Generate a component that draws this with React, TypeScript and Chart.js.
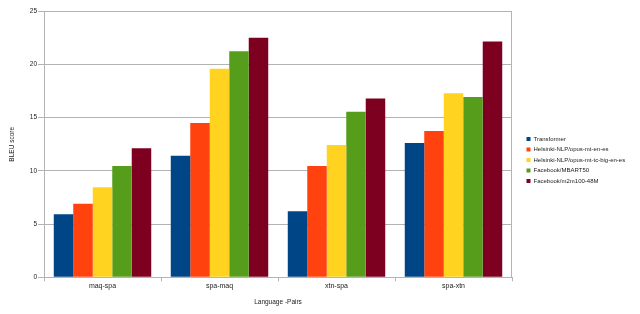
import React, { useEffect, useRef } from "react";
import { Chart, registerables } from "chart.js";

Chart.register(...registerables);

const categories = ["maq-spa", "spa-maq", "xtn-spa", "spa-xtn"];
const seriesNames = [
  "Transformer",
  "Helsinki-NLP/opus-mt-en-es",
  "Helsinki-NLP/opus-mt-tc-big-en-es",
  "Facebook/MBART50",
  "Facebook/m2m100-48M",
];
const transformer = [5.92, 11.43, 6.2, 12.62];
const opusMt = [6.92, 14.5, 10.46, 13.75];
const opusTcBig = [8.46, 19.6, 12.43, 17.3];
const mbart50 = [10.46, 21.24, 15.56, 16.95];
const m2m100 = [12.12, 22.52, 16.8, 22.15];
const yTicks = [0, 5, 10, 15, 20, 25];

const colors = ["#004586", "#ff420e", "#ffd320", "#579d1c", "#7e0021"];
const FONT = "'Liberation Sans', Arial, sans-serif";
const GRID = "#b3b3b3";

const legendFix = {
  id: "legendFix",
  beforeLayout(chart: any) {
    const lg = chart.legend;
    if (lg && !lg._fixed) {
      const f = lg.fit.bind(lg);
      lg.fit = function () {
        f();
        this.width = 128;
      };
      lg._fixed = true;
    }
  },
  afterLayout(chart: any) {
    const lg = chart.legend;
    if (lg) {
      lg.left = 522;
      lg.right = 640;
      lg.top = 131.5;
      lg.bottom = 314;
    }
  },
};

const rightBorder = {
  id: "rightBorder",
  afterDatasetsDraw(chart: any) {
    const { ctx, chartArea } = chart;
    ctx.save();
    ctx.strokeStyle = GRID;
    ctx.lineWidth = 1;
    ctx.beginPath();
    const x = Math.round(chartArea.right) - 0.5;
    ctx.moveTo(x, chartArea.top);
    ctx.lineTo(x, chartArea.bottom);
    ctx.stroke();
    ctx.restore();
  },
};

export default function App() {
  const ref = useRef<HTMLCanvasElement>(null);
  useEffect(() => {
    document.body.style.margin = "0";
    const all = [transformer, opusMt, opusTcBig, mbart50, m2m100];
    const chart = new Chart(ref.current!, {
      type: "bar",
      data: {
        labels: categories,
        datasets: all.map((d, i) => ({
          label: seriesNames[i],
          data: d,
          backgroundColor: colors[i],
          borderWidth: 0,
          categoryPercentage: 0.833,
          barPercentage: 1,
        })),
      },
      options: {
        animation: false,
        responsive: false,
        maintainAspectRatio: false,
        layout: { padding: { top: 11.3, left: 0, right: 0, bottom: 0 } },
        plugins: {
          legend: {
            position: "right",
            align: "start",
            labels: {
              boxWidth: 4,
              boxHeight: 4,
              padding: 4.5,
              color: "#222",
              font: { family: FONT, size: 6 },
            },
          },
          tooltip: { enabled: false },
        },
        scales: {
          x: {
            grid: {
              drawOnChartArea: false,
              drawTicks: true,
              tickLength: 4,
              color: GRID,
              offset: true,
            },
            border: { color: GRID },
            ticks: { color: "#222", padding: 1, font: { family: FONT, size: 7 } },
            title: {
              display: true,
              text: "Language -Pairs",
              color: "#222",
              font: { family: FONT, size: 6.5 },
              padding: { top: 0, bottom: 8 },
            },
            afterFit(s: any) {
              s.height = 36.7;
            },
          },
          y: {
            min: 0,
            max: 25,
            afterBuildTicks(s: any) {
              s.ticks = yTicks.map((v) => ({ value: v }));
            },
            grid: { color: GRID, tickLength: 6, drawTicks: true },
            border: { color: GRID },
            ticks: { color: "#222", padding: 1, font: { family: FONT, size: 6.5 } },
            title: {
              display: true,
              text: "BLEU score",
              color: "#222",
              font: { family: FONT, size: 6.5 },
              padding: { top: 8, bottom: 0 },
            },
            afterFit(s: any) {
              s.width = 44;
            },
          },
        },
      },
      plugins: [legendFix, rightBorder],
    } as any);
    return () => chart.destroy();
  }, []);
  return <canvas ref={ref} width={640} height={314} style={{ display: "block" }} />;
}
